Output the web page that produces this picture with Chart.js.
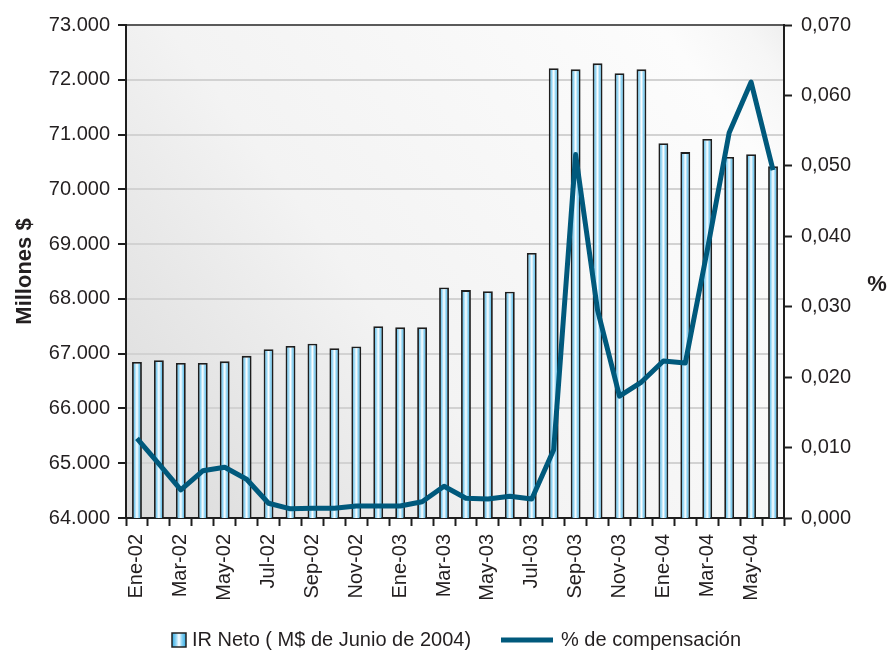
<!DOCTYPE html>
<html>
<head>
<meta charset="utf-8">
<script src="https://cdn.jsdelivr.net/npm/chart.js@4/dist/chart.umd.min.js"></script>
<style>
  html, body { margin: 0; padding: 0; background: #fff; }
  #wrap { width: 887px; height: 654px; position: relative; }
</style>
</head>
<body>
<div id="wrap"><canvas id="irChart"></canvas></div>
<script>
// Meses (Ene-02 .. Jun-04)
const months = [
  'Ene-02', 'Feb-02', 'Mar-02', 'Abr-02', 'May-02', 'Jun-02', 'Jul-02', 'Ago-02', 'Sep-02', 'Oct-02', 'Nov-02', 'Dic-02',
  'Ene-03', 'Feb-03', 'Mar-03', 'Abr-03', 'May-03', 'Jun-03', 'Jul-03', 'Ago-03', 'Sep-03', 'Oct-03', 'Nov-03', 'Dic-03',
  'Ene-04', 'Feb-04', 'Mar-04', 'Abr-04', 'May-04', 'Jun-04'
];

// IR Neto (M$ de Junio de 2004)
const irNeto = [
  66850, 66880, 66830, 66830, 66860, 66960, 67080, 67140, 67180, 67100, 67130, 67500,
  67480, 67480, 68210, 68160, 68140, 68130, 68840, 72210, 72190, 72300, 72120, 72190,
  70840, 70680, 70920, 70590, 70640, 70420
];

// % de compensación
const compensacion = [
  0.0113, 0.0077, 0.0040, 0.0067, 0.0072, 0.0055, 0.0021, 0.0013, 0.0014, 0.0014, 0.0017, 0.0017,
  0.0017, 0.0023, 0.0045, 0.0028, 0.0027, 0.0031, 0.0027, 0.0097, 0.0516, 0.0295, 0.0173, 0.0193,
  0.0223, 0.0220, 0.0380, 0.0547, 0.0619, 0.0494
];

const legendBar = 'IR Neto ( M$ de Junio de 2004)';
const legendLine = '% de compensación';
const leftTitle = 'Millones $';
const rightTitle = '%';

const FONT = '"Liberation Sans", Arial, sans-serif';
const TEXT = '#231f20';
const LINE_COLOR = '#00597c';
const BAR_PCT = 0.45;

function barGradient(ctx, x0, x1) {
  const g = ctx.createLinearGradient(x0, 0, x1, 0);
  g.addColorStop(0, '#2faae2');
  g.addColorStop(0.28, '#8ed3f3');
  g.addColorStop(0.5, '#ffffff');
  g.addColorStop(0.7, '#8ed3f3');
  g.addColorStop(1, '#2faae2');
  return g;
}

function barFill(c) {
  const chart = c.chart;
  const xs = chart.scales.x;
  if (!xs || c.dataIndex === undefined) return '#8ed3f3';
  const cx = xs.getPixelForValue(c.dataIndex);
  const w = xs.width / months.length * BAR_PCT;
  if (!isFinite(cx) || !isFinite(w) || w <= 0) return '#8ed3f3';
  return barGradient(chart.ctx, cx - w / 2, cx + w / 2);
}

function thousands(v) {
  return String(Math.round(v)).replace(/\B(?=(\d{3})+(?!\d))/g, '.');
}

// plot area background (soft grey gradient)
const plotBg = {
  id: 'plotBg',
  beforeDatasetsDraw(chart) {
    const { ctx, chartArea: a } = chart;
    ctx.save();
    const g = ctx.createLinearGradient(a.left, a.bottom, a.right, a.top);
    g.addColorStop(0, '#dadada');
    g.addColorStop(0.4, '#f3f3f3');
    g.addColorStop(0.88, '#fcfcfc');
    g.addColorStop(0.96, '#f6f6f6');
    g.addColorStop(1, '#efefef');
    ctx.globalCompositeOperation = 'destination-over';
    ctx.fillStyle = g;
    ctx.fillRect(a.left, a.top, a.right - a.left, a.bottom - a.top);
    ctx.restore();
  }
};

// axis titles + legend at the bottom
const extras = {
  id: 'extras',
  afterDraw(chart) {
    const ctx = chart.ctx;
    const a = chart.chartArea;
    ctx.save();
    ctx.fillStyle = TEXT;
    ctx.font = 'bold 22px ' + FONT;
    ctx.textAlign = 'center';
    ctx.textBaseline = 'middle';
    ctx.save();
    ctx.translate(25, (a.top + a.bottom) / 2);
    ctx.rotate(-Math.PI / 2);
    ctx.fillText(leftTitle, 0, 0);
    ctx.restore();
    ctx.fillText(rightTitle, 877, 285);

    const y = 640;
    ctx.font = '20px ' + FONT;
    ctx.textAlign = 'left';
    ctx.fillStyle = barGradient(ctx, 172, 186);
    ctx.fillRect(172, y - 7, 14, 14);
    ctx.strokeStyle = '#222';
    ctx.lineWidth = 1.5;
    ctx.strokeRect(172, y - 7, 14, 14);
    ctx.fillStyle = TEXT;
    ctx.fillText(legendBar, 192, y);

    ctx.strokeStyle = LINE_COLOR;
    ctx.lineWidth = 5;
    ctx.beginPath();
    ctx.moveTo(501, y);
    ctx.lineTo(553, y);
    ctx.stroke();
    ctx.fillStyle = TEXT;
    ctx.fillText(legendLine, 561, y);
    ctx.restore();
  }
};

const ctx = document.getElementById('irChart').getContext('2d');
const irChart = new Chart(ctx, {
  data: {
    labels: months,
    datasets: [{
      type: 'line',
      label: legendLine,
      data: compensacion,
      yAxisID: 'y1',
      borderColor: LINE_COLOR,
      borderWidth: 5,
      pointRadius: 0,
      tension: 0,
      borderJoinStyle: 'round',
      order: 0
    }, {
      type: 'bar',
      label: legendBar,
      data: irNeto,
      yAxisID: 'y',
      backgroundColor: barFill,
      borderColor: '#1e1e1e',
      borderWidth: 1.8,
      barPercentage: BAR_PCT,
      categoryPercentage: 1,
      order: 1
    }]
  },
  options: {
    responsive: true,
    maintainAspectRatio: false,
    animation: false,
    devicePixelRatio: 1,
    layout: { padding: { top: 25, left: 0, right: 0, bottom: 0 } },
    plugins: {
      legend: { display: false },
      tooltip: { enabled: false }
    },
    scales: {
      x: {
        offset: true,
        border: { color: '#1e1e1e', width: 2 },
        grid: {
          offset: true,
          drawOnChartArea: false,
          drawTicks: true,
          tickLength: 8,
          tickColor: '#1e1e1e',
          tickWidth: 2
        },
        ticks: {
          autoSkip: false,
          maxRotation: 90,
          minRotation: 90,
          padding: 8,
          color: TEXT,
          font: { family: FONT, size: 20 },
          callback: (v, i) => (i % 2 === 0 ? months[i] : '')
        },
        afterFit: s => { s.height = 136; }
      },
      y: {
        position: 'left',
        min: 64000,
        max: 73000,
        border: { color: '#1e1e1e', width: 2 },
        grid: {
          color: c => (c.tick && c.tick.value === 73000 ? '#5a5a5a' : '#d2d2d2'),
          lineWidth: 2,
          tickLength: 8,
          tickColor: '#1e1e1e',
          tickWidth: 2
        },
        ticks: {
          stepSize: 1000,
          padding: 8,
          color: TEXT,
          font: { family: FONT, size: 20 },
          callback: v => thousands(v)
        },
        afterFit: s => { s.width = 126; }
      },
      y1: {
        position: 'right',
        min: 0,
        max: 0.07,
        border: { color: '#1e1e1e', width: 2 },
        grid: {
          drawOnChartArea: false,
          tickLength: 8,
          tickColor: '#1e1e1e',
          tickWidth: 2
        },
        ticks: {
          stepSize: 0.01,
          padding: 9,
          color: TEXT,
          font: { family: FONT, size: 20 },
          callback: v => v.toFixed(3).replace('.', ',')
        },
        afterFit: s => { s.width = 103; }
      }
    }
  },
  plugins: [plotBg, extras]
});
</script>
</body>
</html>
